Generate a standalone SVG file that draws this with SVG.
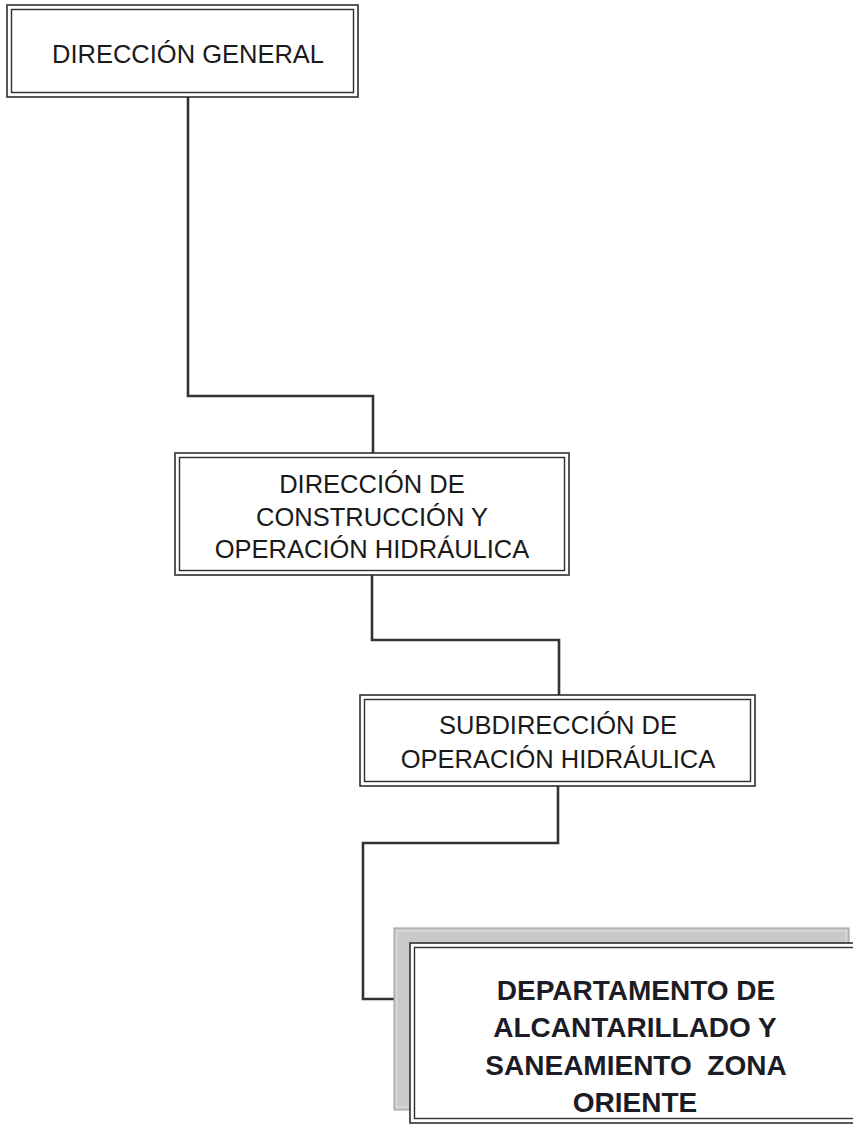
<svg xmlns="http://www.w3.org/2000/svg" width="853" height="1125" viewBox="0 0 853 1125">
  <style>
    .bg { fill: #ffffff; }
    .outer { fill: #ffffff; stroke: #2e2e2e; stroke-width: 1.6; }
    .inner { fill: none; stroke: #2e2e2e; stroke-width: 1.4; }
    .label { font-family: "Liberation Sans", Arial, sans-serif; font-size: 25.5px; fill: #1a1a1a; text-anchor: middle; }
    .label-bold { font-family: "Liberation Sans", Arial, sans-serif; font-size: 28px; font-weight: bold; fill: #1c1c26; text-anchor: middle; }
    .link { fill: none; stroke: #333333; stroke-width: 2.6; stroke-linejoin: miter; }
    .shadow { fill: #c9c9c9; stroke: #9c9c9c; stroke-width: 1; }
    .shadow-inner { fill: none; stroke: #e2e2e2; stroke-width: 1; }
  </style>

  <rect class="bg" x="0" y="0" width="853" height="1125"/>

  <!-- connectors -->
  <g id="connectors">
    <polyline class="link" points="188,97 188,396 373,396 373,454"/>
    <polyline class="link" points="372,575 372,640 559,640 559,695"/>
    <polyline class="link" points="558,786 558,843 363,843 363,999 410,999"/>
  </g>

  <!-- Dirección General -->
  <g id="node-direccion-general">
    <rect class="outer" x="7" y="5" width="351" height="92"/>
    <rect class="inner" x="11.5" y="9.5" width="342" height="83"/>
    <text class="label" x="188" y="63">DIRECCIÓN GENERAL</text>
  </g>

  <!-- Dirección de Construcción y Operación Hidráulica -->
  <g id="node-direccion-construccion">
    <rect class="outer" x="175" y="453" width="394" height="122"/>
    <rect class="inner" x="179.5" y="457.5" width="385" height="113"/>
    <text class="label" x="372" y="493">DIRECCIÓN DE</text>
    <text class="label" x="372" y="526">CONSTRUCCIÓN Y</text>
    <text class="label" x="372" y="558">OPERACIÓN HIDRÁULICA</text>
  </g>

  <!-- Subdirección de Operación Hidráulica -->
  <g id="node-subdireccion">
    <rect class="outer" x="360" y="695" width="395" height="91"/>
    <rect class="inner" x="364.5" y="699.5" width="386" height="82"/>
    <text class="label" x="558" y="734">SUBDIRECCIÓN DE</text>
    <text class="label" x="558" y="768">OPERACIÓN HIDRÁULICA</text>
  </g>

  <!-- Departamento de Alcantarillado y Saneamiento Zona Oriente -->
  <g id="node-departamento">
    <rect class="shadow" x="394" y="928" width="455" height="182"/>
    <rect class="shadow-inner" x="397" y="931" width="449" height="176"/>
    <rect class="outer" x="410" y="943" width="460" height="180"/>
    <rect class="inner" x="414.5" y="947.5" width="451" height="171"/>
    <text class="label-bold" x="636" y="1000">DEPARTAMENTO DE</text>
    <text class="label-bold" x="635" y="1037">ALCANTARILLADO Y</text>
    <text class="label-bold" x="636" y="1075" xml:space="preserve">SANEAMIENTO  ZONA</text>
    <text class="label-bold" x="635" y="1112">ORIENTE</text>
  </g>
</svg>
